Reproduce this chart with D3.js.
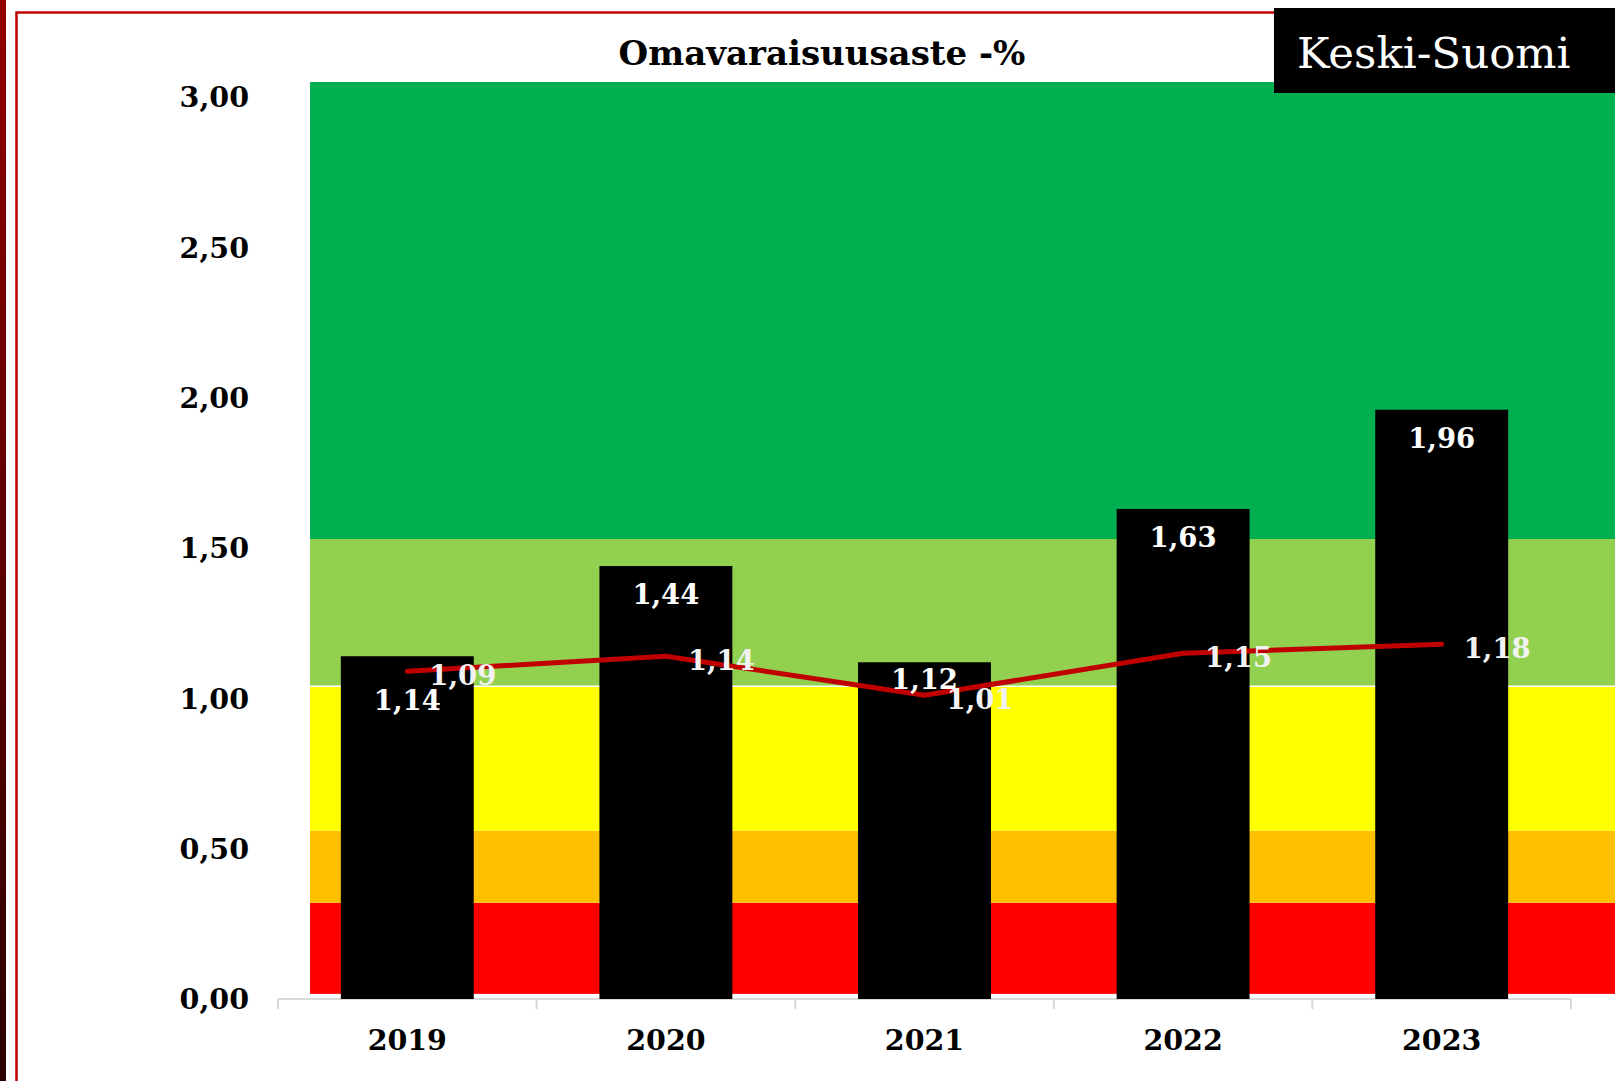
<!DOCTYPE html>
<html>
<head>
<meta charset="utf-8">
<script src="https://cdn.jsdelivr.net/npm/d3@7"></script>
<style>
  html, body { margin: 0; padding: 0; background: #fff; }
  svg { display: block; }
</style>
</head>
<body>
<svg id="chart"></svg>
<script>
// data
const years = ["2019", "2020", "2021", "2022", "2023"];
const barValues = [1.14, 1.44, 1.12, 1.63, 1.96];
const lineValues = [1.09, 1.14, 1.01, 1.15, 1.18];
const yTicks = [0, 0.5, 1, 1.5, 2, 2.5, 3];
const bandEdges = [0.017, 0.32, 0.56, 1.04, 1.53, 3.05];
const bandColors = ["#ff0000", "#ffc000", "#ffff00", "#92d050", "#00b050"];
const title = "Omavaraisuusaste -%";
const region = "Keski-Suomi";

const width = 1615, height = 1081;
const serif = "'DejaVu Serif', Georgia, serif";
const numSize = 27.5;

const svg = d3.select("#chart")
  .attr("width", width)
  .attr("height", height);

// left dark strip
const grad = svg.append("defs").append("linearGradient")
  .attr("id", "strip").attr("x1", 0).attr("y1", 0).attr("x2", 0).attr("y2", 1);
grad.append("stop").attr("offset", "0%").attr("stop-color", "#930000");
grad.append("stop").attr("offset", "100%").attr("stop-color", "#2b0000");
svg.append("rect").attr("x", 0).attr("y", 0).attr("width", 6).attr("height", height)
  .attr("fill", "url(#strip)");

// red frame
svg.append("rect")
  .attr("x", 16.5).attr("y", 12.5)
  .attr("width", width + 100).attr("height", height + 100)
  .attr("fill", "none").attr("stroke", "#c00000").attr("stroke-width", 2.5);

// scales
const x = d3.scaleBand()
  .domain(years)
  .range([278, 1571])
  .paddingInner(0.486)
  .paddingOuter(0.243);

const y = d3.scaleLinear()
  .domain([0, 3.05])
  .range([999, 82]);

const fi = d3.formatLocale({ decimal: ",", thousands: " ", grouping: [3], currency: ["", "€"] });
const fmt = fi.format(".2f");

// background bands
const bands = svg.append("g");
bandColors.forEach((c, i) => {
  bands.append("rect")
    .attr("x", 310)
    .attr("width", width - 310)
    .attr("y", y(bandEdges[i + 1]))
    .attr("height", y(bandEdges[i]) - y(bandEdges[i + 1]))
    .attr("fill", c);
});
// thin white line between yellow and light green
bands.append("line")
  .attr("x1", 310).attr("x2", width)
  .attr("y1", y(bandEdges[3])).attr("y2", y(bandEdges[3]))
  .attr("stroke", "#fff").attr("stroke-width", 1.5);

// x axis line and category ticks
const step = x.step();
const axis = svg.append("g").attr("stroke", "#d9d9d9").attr("stroke-width", 2);
axis.append("line")
  .attr("x1", 278).attr("x2", 1571)
  .attr("y1", y(0)).attr("y2", y(0));
d3.range(years.length + 1).forEach(i => {
  const xx = 278 + i * step;
  axis.append("line")
    .attr("x1", xx).attr("x2", xx)
    .attr("y1", y(0)).attr("y2", y(0) + 10);
});

// bars
svg.append("g")
  .selectAll("rect")
  .data(barValues)
  .join("rect")
  .attr("x", (d, i) => x(years[i]))
  .attr("width", x.bandwidth())
  .attr("y", d => y(d))
  .attr("height", d => y(0) - y(d))
  .attr("fill", "#000");

// red line
const cx = i => x(years[i]) + x.bandwidth() / 2;
const line = d3.line()
  .x((d, i) => cx(i))
  .y(d => y(d));
svg.append("path")
  .datum(lineValues)
  .attr("d", line)
  .attr("fill", "none")
  .attr("stroke", "#c00000")
  .attr("stroke-width", 5)
  .attr("stroke-linecap", "round")
  .attr("stroke-linejoin", "round");

// bar labels, moved off the line where they would collide
svg.append("g")
  .selectAll("text")
  .data(barValues)
  .join("text")
  .attr("x", (d, i) => cx(i))
  .attr("y", (d, i) => {
    const top = y(d), ly = y(lineValues[i]);
    let t = top + 28;
    if (Math.abs(t - ly) < 16) t = (ly - top > 30) ? (top + ly) / 2 : ly + 29;
    return t;
  })
  .attr("dy", "0.36em")
  .attr("text-anchor", "middle")
  .attr("font-family", serif)
  .attr("font-weight", "bold")
  .attr("font-size", numSize)
  .attr("fill", "#fff")
  .text(d => fmt(d));

// line labels, right of each point
svg.append("g")
  .selectAll("text")
  .data(lineValues)
  .join("text")
  .attr("x", (d, i) => cx(i) + 22)
  .attr("y", d => y(d) + 4)
  .attr("dy", "0.36em")
  .attr("font-family", serif)
  .attr("font-weight", "bold")
  .attr("font-size", numSize)
  .attr("fill", "#f2f2f2")
  .text(d => fmt(d));

// y tick labels
svg.append("g")
  .selectAll("text")
  .data(yTicks)
  .join("text")
  .attr("x", 249)
  .attr("y", d => y(d))
  .attr("dy", "0.36em")
  .attr("text-anchor", "end")
  .attr("font-family", serif)
  .attr("font-weight", "bold")
  .attr("font-size", 28.5)
  .attr("fill", "#000")
  .text(d => fmt(d));

// x labels
svg.append("g")
  .selectAll("text")
  .data(years)
  .join("text")
  .attr("x", d => x(d) + x.bandwidth() / 2)
  .attr("y", 1040)
  .attr("dy", "0.36em")
  .attr("text-anchor", "middle")
  .attr("font-family", serif)
  .attr("font-weight", "bold")
  .attr("font-size", 28.5)
  .attr("fill", "#000")
  .text(d => d);

// title
svg.append("text")
  .attr("x", 822)
  .attr("y", 65)
  .attr("text-anchor", "middle")
  .attr("font-family", serif)
  .attr("font-weight", "bold")
  .attr("font-size", 34)
  .attr("fill", "#000")
  .text(title);

// region box
svg.append("rect")
  .attr("x", 1274).attr("y", 8)
  .attr("width", width - 1274).attr("height", 85)
  .attr("fill", "#000");
svg.append("text")
  .attr("x", 1297)
  .attr("y", 68)
  .attr("font-family", serif)
  .attr("font-size", 43.5)
  .attr("fill", "#fff")
  .text(region);
</script>
</body>
</html>
